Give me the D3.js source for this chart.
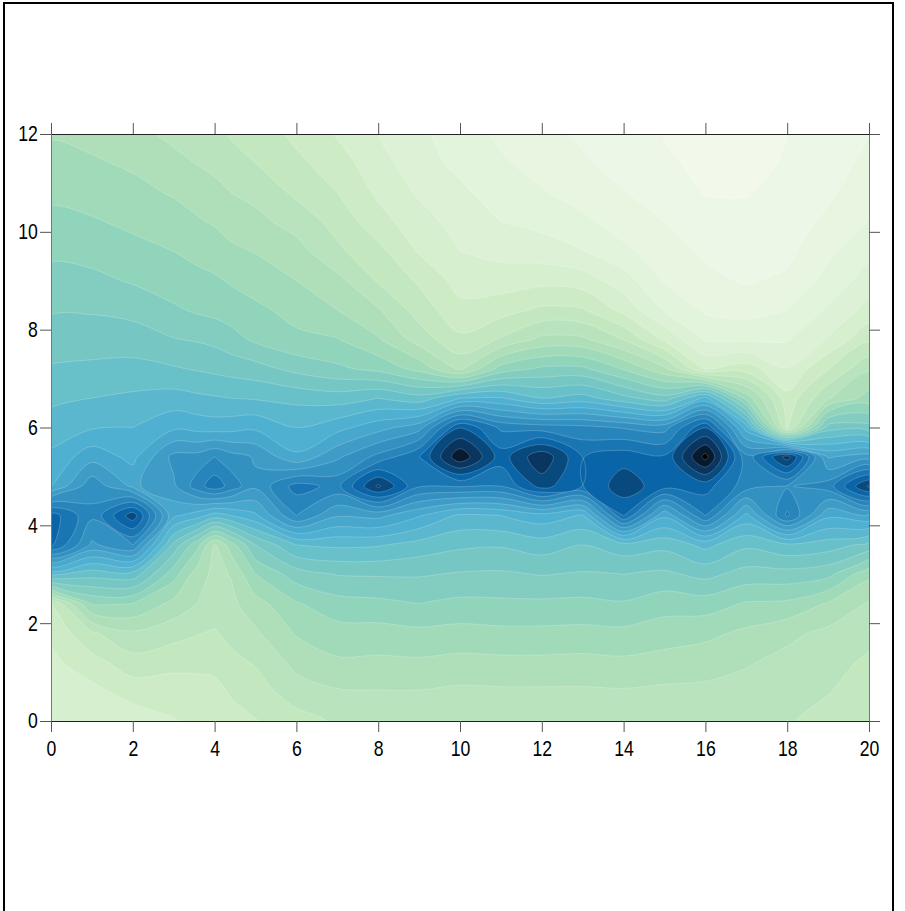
<!DOCTYPE html>
<html>
<head>
<meta charset="utf-8">
<script src="https://cdn.jsdelivr.net/npm/d3@7"></script>
<style>
body { margin: 0; background: #fff; }
svg { display: block; }
text { font-family: "Liberation Sans", Arial, sans-serif; font-size: 21.5px; fill: #000; }
</style>
</head>
<body>
<script>
// griglia: una colonna per ogni x, valori da y=0 a y=12
var xValues = [0, 1, 2, 3, 3.6, 4, 4.4, 5, 6, 7, 8, 9, 10, 11, 12, 13, 14, 15, 16, 17, 18, 19, 20];
var yValues = [0, 0.6, 1.2, 1.8, 2.4, 3, 3.6, 4.2, 4.8, 5.4, 6, 6.6, 7.2, 7.8, 8.4, 9, 9.6, 10.2, 10.8, 11.4, 12];

var x0   = [5.2, 5.4, 5.75, 6.2, 6.95, 15.2, 22.2, 22.5, 16.95, 16.2, 15.5, 14.75, 14.1, 13.5, 12.9, 12.35, 11.8, 11.25, 10.8, 10.35, 9.9];
var x1   = [5.3, 5.7, 6.6, 7.85, 11.1, 14.4, 18.8, 20.2, 19.7, 17.6, 15.9, 15.0, 14.2, 13.55, 12.9, 12.25, 11.65, 11.1, 10.6, 10.13, 9.7];
var x2   = [5.4, 6.4, 7.6, 8.85, 11, 14.6, 20, 23.6, 17.8, 16.7, 16, 15.2, 14.3, 13.5, 12.7, 11.9, 11.3, 10.8, 10.3, 9.85, 9.3];
var x3   = [5.95, 6.4, 7.35, 8.35, 9.7, 11.4, 13.7, 17.2, 18.8, 19.3, 16.8, 15.4, 14.1, 13.05, 12.15, 11.5, 11.0, 10.45, 9.9, 9.3, 8.75];
var x3_6 = [6.2, 6.55, 7.3, 8.05, 8.95, 9.4, 11.2, 16.4, 20.6, 19.4, 16.6, 15.2, 13.9, 12.9, 11.85, 11.3, 10.7, 10.1, 9.6, 8.95, 8.4];
var x4   = [6.35, 6.7, 7.3, 7.9, 8.6, 8.75, 8.9, 15.5, 21.6, 20, 16.5, 15.1, 13.75, 12.75, 11.7, 11.15, 10.5, 9.9, 9.35, 8.7, 8.25];
var x4_4 = [6.65, 7.1, 7.7, 8.3, 8.75, 9.05, 10.5, 16, 20.6, 19.4, 16.6, 15.0, 13.6, 12.4, 11.5, 10.9, 10.2, 9.6, 9, 8.4, 7.9];
var x5   = [6.95, 7.5, 8.1, 8.85, 9.6, 11, 13, 16.8, 19.2, 18.9, 16.8, 14.9, 13.4, 11.8, 11.2, 10.6, 9.95, 9.3, 8.7, 8.0, 7.5];
var x6   = [7.55, 8.55, 9.3, 10.1, 10.9, 12.5, 15, 20, 21.4, 17.2, 16, 14.7, 12.7, 11.2, 10.7, 10.0, 9.4, 8.6, 7.8, 7.25, 6.75];
var x7   = [8.15, 8.9, 9.85, 10.6, 11.6, 13.05, 15.2, 18.1, 20.7, 18.8, 16.65, 14.5, 12.2, 11.05, 10, 9.3, 8.2, 7.65, 7.0, 6.45, 5.9];
var x8   = [8.3, 8.95, 9.8, 10.6, 11.75, 13.1, 15.1, 18.3, 24.2, 20.3, 17.6, 15, 11.7, 10.1, 9.1, 7.9, 7.3, 6.4, 5.8, 5.4, 5.0];
var x9   = [8.4, 8.95, 9.85, 10.75, 12, 13.1, 14.6, 17.1, 21.1, 22, 18.6, 14.4, 10.65, 8.55, 7.55, 6.85, 5.9, 5.4, 4.85, 4.4, 4.2];
var x10  = [8.4, 8.8, 9.7, 10.65, 11.75, 12.9, 14.2, 15.8, 21.1, 25.8, 22.95, 16, 8.8, 7.2, 6.3, 5.6, 5, 4.6, 4.2, 3.75, 3.45];
var x11  = [8.4, 8.85, 9.75, 10.75, 11.8, 12.85, 14.1, 16.0, 21, 22.5, 20.8, 16.1, 11.4, 8.1, 6.6, 5.5, 4.7, 4.0, 3.55, 3.15, 2.8];
var x12  = [8.4, 8.85, 9.75, 10.75, 11.8, 13.05, 14.5, 16.6, 23.4, 24.8, 20.5, 15, 12.2, 9.25, 7.2, 5.7, 4.5, 3.7, 3.1, 2.6, 2.3];
var x13  = [8.4, 8.85, 9.7, 10.7, 11.75, 12.9, 14, 15.9, 21.97, 21.97, 20.3, 15.4, 12.2, 9.2, 7.1, 5.5, 4.05, 3.25, 2.55, 2.15, 1.82];
var x14  = [8.4, 8.9, 9.8, 10.75, 11.9, 13, 14.6, 22.05, 23.6, 22.6, 19.9, 14.3, 10.9, 7.95, 5.7, 4.45, 3.25, 2.5, 2.05, 1.6, 1.4];
var x15  = [8.3, 8.8, 9.6, 10.5, 11.4, 12.8, 14.3, 17.2, 22.4, 22.15, 19.6, 13.4, 9.2, 5.8, 3.9, 2.9, 2.4, 2.0, 1.55, 1.1, 0.97];
var x16  = [8.25, 8.75, 9.45, 10.25, 11.5, 13.3, 15.3, 21, 22.4, 26.4, 22.95, 16.3, 5.9, 3.9, 2.85, 2.25, 1.85, 1.45, 0.95, 0.85, 0.5];
var x17  = [8.2, 8.6, 9.1, 9.8, 10.9, 12.6, 14.2, 16.7, 20.5, 20.3, 16.5, 10.6, 6.5, 3.8, 2.65, 1.9, 1.55, 1.25, 0.95, 0.7, 0.4];
var x18  = [8.1, 8.4, 8.7, 9.25, 10.8, 12.6, 14.8, 21.2, 19.9, 24.5, 6.9, 6.3, 5.05, 3.9, 3.0, 2.2, 1.75, 1.45, 1.25, 1.1, 1.0];
var x19  = [7.6, 8.05, 8.4, 8.75, 9.9, 12.3, 14.5, 17.2, 20.5, 17.9, 13.5, 8.9, 6.95, 5.1, 4.15, 3.35, 2.8, 2.25, 1.8, 1.4, 1.15];
var x20  = [7.2, 7.5, 7.8, 8.35, 8.9, 10.25, 13.7, 17.8, 24.2, 18.5, 13.4, 10.4, 8.85, 6.8, 5.35, 4.45, 3.7, 3.05, 2.7, 2.35, 2.0];

var columns = [x0, x1, x2, x3, x3_6, x4, x4_4, x5, x6, x7, x8, x9, x10, x11, x12, x13, x14, x15, x16, x17, x18, x19, x20];

// livelli delle curve e colore di ogni fascia
var levels = d3.range(0, 27);
var bandColors = ["#f3f9ea", "#edf7e7", "#e8f5e0", "#e3f4dd", "#dcf1d6", "#d5efcf", "#cdecc6", "#c3e8c0", "#b8e3bd",
                  "#aedfb9", "#a0dab9", "#91d4bc", "#83cdc0", "#76c7c4", "#68c0c9", "#5ab7ce", "#4fb0d1", "#47a7cd",
                  "#3f9cc6", "#3391c1", "#2885bb", "#1a76b3", "#0a65a8", "#084a7d", "#0a3560", "#061a30", "#000000"];

var xTicks = [0, 2, 4, 6, 8, 10, 12, 14, 16, 18, 20];
var yTicks = [0, 2, 4, 6, 8, 10, 12];

var w = 905;
var h = 911;
var left = 51, right = 869, top_ = 134, bottom = 721;

var svg = d3.select("body").append("svg").attr("width", w).attr("height", h);

// cornice nera (il lato in basso resta fuori dalla pagina)
svg.append("path")
   .attr("d", "M4,920V3H893V920")
   .attr("fill", "none")
   .attr("stroke", "#000")
   .attr("stroke-width", 2);

var xScale = d3.scaleLinear().domain([0, 20]).range([left, right]);
var yScale = d3.scaleLinear().domain([0, 12]).range([bottom, top_]);

// indice di colonna -> x: le colonne non sono tutte alla stessa distanza
var columnToX = d3.scaleLinear().domain(d3.range(xValues.length)).range(xValues);

// d3.contours vuole i valori riga per riga, il punto i sta al centro della cella i
var nx = xValues.length;
var ny = yValues.length;
var grid = [];
for (var j = 0; j < ny; j++) {
    for (var i = 0; i < nx; i++) {
        grid.push(columns[i][j]);
    }
}

var contours = d3.contours().size([nx, ny]).thresholds(levels).smooth(true)(grid);

// ogni anello diventa una curva chiusa
var ringLine = d3.line()
    .x(function(p) { return xScale(columnToX(p[0] - 0.5)); })
    .y(function(p) { return yScale((p[1] - 0.5) * 0.6); })
    .curve(d3.curveCatmullRomClosed.alpha(0.5));

function contourPath(d) {
    var parts = [];
    d.coordinates.forEach(function(polygon) {
        polygon.forEach(function(ring) {
            parts.push(ringLine(ring.slice(0, -1)));
        });
    });
    return parts.join("");
}

svg.append("clipPath").attr("id", "plot")
   .append("rect")
   .attr("x", left).attr("y", top_)
   .attr("width", right - left).attr("height", bottom - top_);

svg.append("g")
   .attr("clip-path", "url(#plot)")
   .selectAll("path")
   .data(contours)
   .join("path")
   .attr("d", contourPath)
   .attr("fill", function(d) { return bandColors[d.value]; })
   .attr("stroke", "#fff")
   .attr("stroke-opacity", function(d) { return d.value == 0 ? 0 : 0.4; })
   .attr("stroke-width", 0.5);

var labelSqueeze = 0.82;

function styleAxis(g, color) {
    g.select(".domain").attr("stroke", color);
    g.selectAll(".tick line").attr("stroke", "#555");
    g.attr("font-family", null).attr("font-size", null);
    g.selectAll(".tick text").attr("transform", "scale(" + labelSqueeze + ",1)");
}

var axisSize = 11;

var gLeft = svg.append("g").attr("transform", "translate(" + left + ",0)")
   .call(d3.axisLeft(yScale).tickValues(yTicks).tickSize(axisSize).tickSizeOuter(0).tickPadding(5));
styleAxis(gLeft, "#777");

var gRight = svg.append("g").attr("transform", "translate(" + right + ",0)")
   .call(d3.axisRight(yScale).tickValues(yTicks).tickSize(axisSize).tickSizeOuter(0).tickFormat(""));
styleAxis(gRight, "#777");

var gTop = svg.append("g").attr("transform", "translate(0," + top_ + ")")
   .call(d3.axisTop(xScale).tickValues(xTicks).tickSize(axisSize).tickSizeOuter(0).tickFormat(""));
styleAxis(gTop, "#222");

var gBottom = svg.append("g").attr("transform", "translate(0," + bottom + ")")
   .call(d3.axisBottom(xScale).tickValues(xTicks).tickSize(axisSize).tickSizeOuter(0).tickPadding(8.7));
styleAxis(gBottom, "#222");
</script>
</body>
</html>
